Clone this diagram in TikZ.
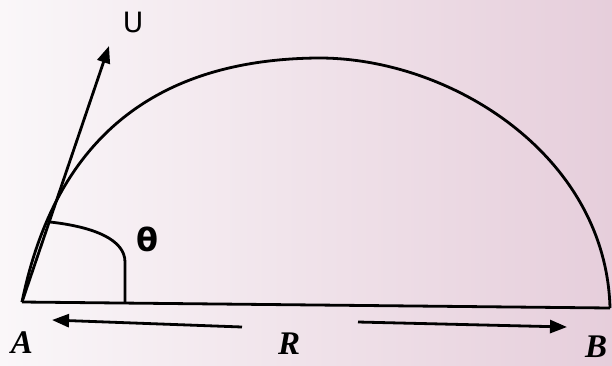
\documentclass[tikz,border=0pt]{standalone}
\usepackage{fontspec}
\setmainfont{Liberation Serif}
\newfontfamily\symfont{DejaVu Sans}
\usetikzlibrary{arrows.meta}
\definecolor{bgL}{RGB}{250,247,249}
\definecolor{bgR}{RGB}{230,206,219}
\tikzset{
  thick line/.style={line width=2.8pt, black},
  arr/.style={thick line, -{Triangle[length=17pt,width=13pt]}},
  ptlabel/.style={font=\fontsize{33}{33}\selectfont\bfseries\itshape, inner sep=0pt},
}
\begin{document}
\begin{tikzpicture}[x=1pt,y=-1pt]
\useasboundingbox (0,0) rectangle (612,365);
\shade[left color=bgL, right color=bgR] (0,0) rectangle (612,365);
\coordinate (A) at (22,302);
\coordinate (B) at (610,308);
\coordinate (T) at (317,58);
\coordinate (Utip) at (109,46);
\coordinate (Ts) at (50,222);
\coordinate (Tb) at (125,303);
% trajectory
\draw[thick line] (A) .. controls (50,165) and (130,60) .. (T)
  .. controls (450,57) and (606,155) .. (B);
% ground
\draw[thick line] (A) -- (B);
% velocity
\draw[arr] (A) -- (Utip);
\node[font=\symfont\fontsize{28}{28}\selectfont, inner sep=0pt] (U) at (133,22) {U};
% angle mark
\draw[thick line] (Ts) .. controls (95,227) and (125,240) .. (125,262) -- (Tb);
\node[font=\symfont\fontsize{32}{32}\selectfont\bfseries, inner sep=0pt] (th) at (147,239) {θ};
% range arrows
\coordinate (L1) at (242,327);
\coordinate (L2) at (52,320);
\coordinate (R1) at (358,322);
\coordinate (R2) at (567,327);
\draw[arr] (L1) -- (L2);
\draw[arr] (R1) -- (R2);
\node[ptlabel] (Alab) at (22,343) {A};
\node[ptlabel] (Rlab) at (289,344) {R};
\node[ptlabel] (Blab) at (596,347) {B};
\end{tikzpicture}
\end{document}
